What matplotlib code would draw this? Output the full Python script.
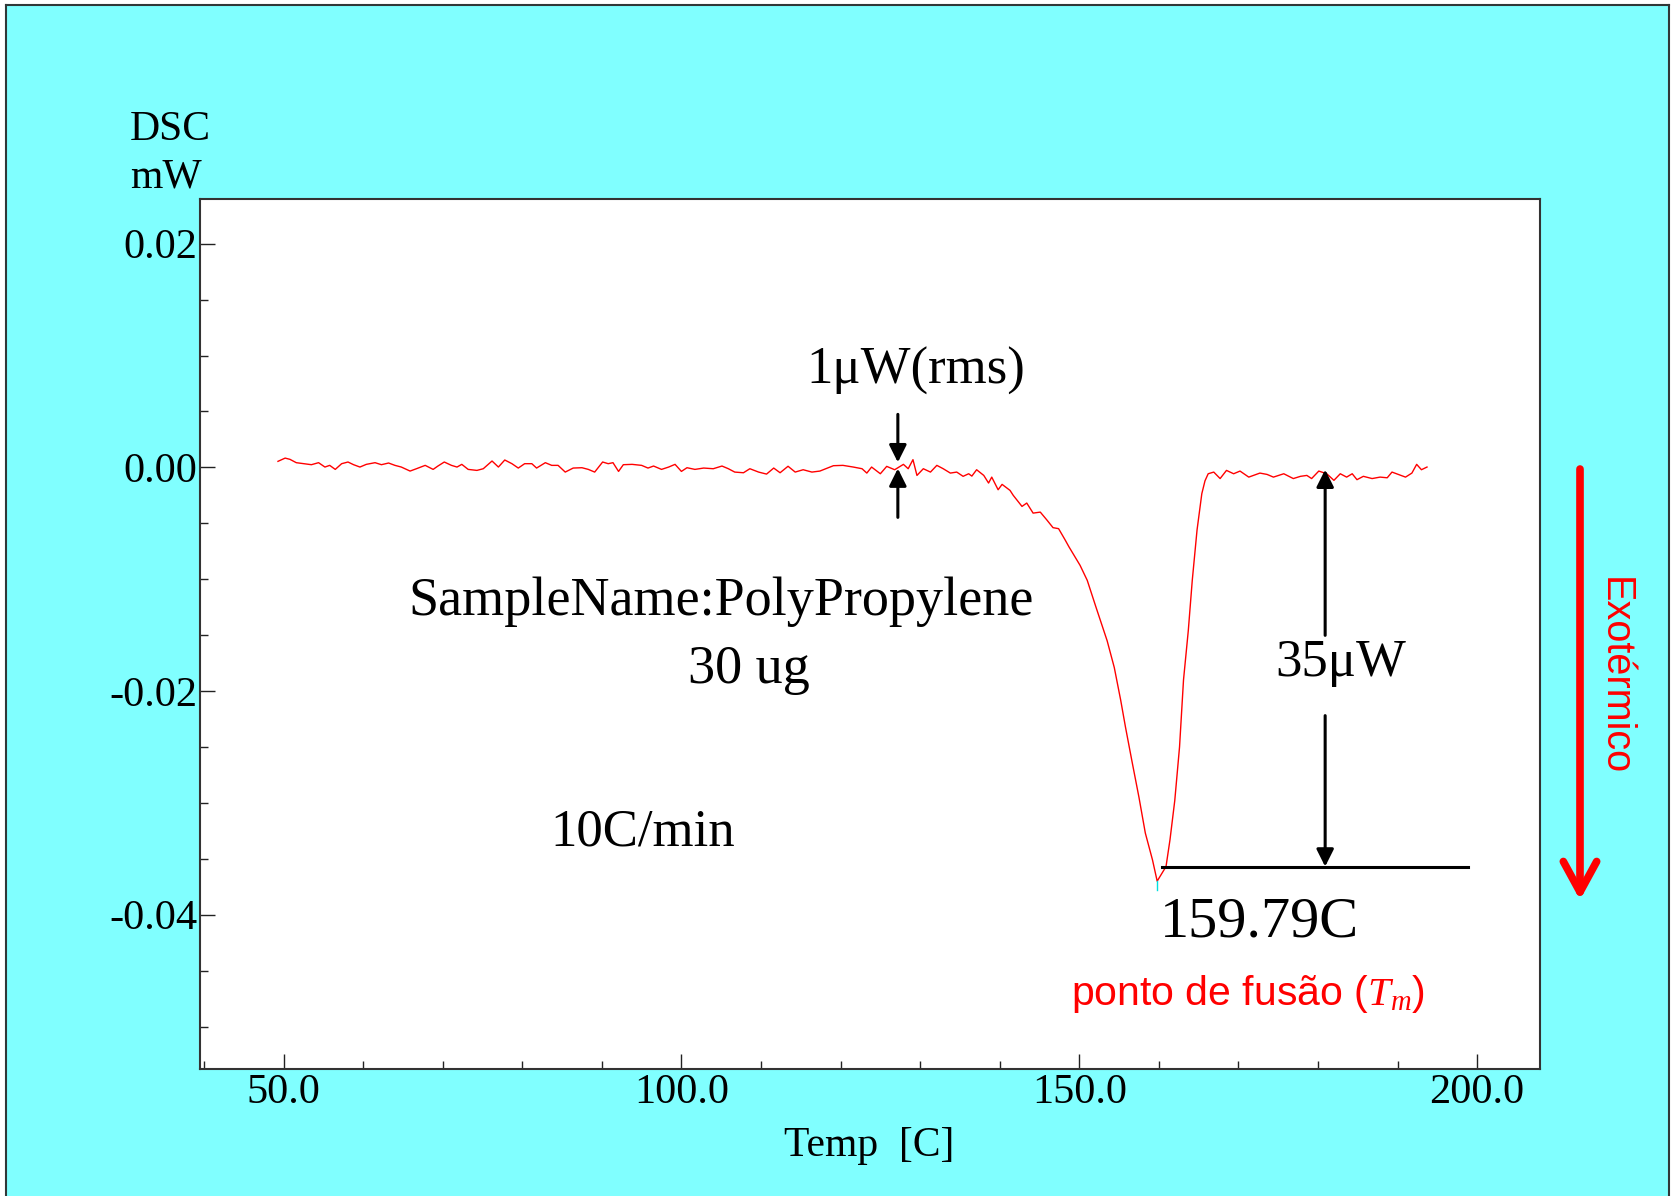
import matplotlib
matplotlib.use('Agg')
import matplotlib.pyplot as plt
from matplotlib.ticker import MultipleLocator, FixedLocator, FuncFormatter
from matplotlib.patches import Rectangle, FancyArrowPatch
from matplotlib.lines import Line2D

plt.rcParams['font.family'] = ['Liberation Serif', 'DejaVu Serif']
plt.rcParams['axes.unicode_minus'] = False
plt.rcParams['mathtext.fontset'] = 'custom'
plt.rcParams['mathtext.it'] = 'Liberation Serif:italic'
plt.rcParams['mathtext.rm'] = 'Liberation Serif'

# DSC trace of polypropylene (temperature in C, heat flow in mW)
temp = [49.3, 50.2, 50.8, 51.6, 52.5, 53.5, 54.4, 55.2, 55.8, 56.5, 57.3, 58.1, 58.8, 59.6,
        60.4, 61.5, 62.3, 63.2, 64.0, 64.8, 65.9, 66.7, 67.8, 68.8, 69.4, 70.2, 71.1, 71.8,
        72.4, 73.2, 74.3, 75.1, 76.2, 77.0, 77.8, 78.7, 79.5, 80.3, 81.2, 81.8, 82.9, 83.7,
        84.5, 85.4, 86.4, 87.5, 88.3, 89.1, 90.1, 90.8, 91.4, 92.1, 92.7, 93.8, 95.0, 95.8,
        96.5, 97.5, 98.4, 99.2, 100.0, 100.7, 101.7, 102.8, 104.0, 105.1, 105.9, 106.7, 107.8,
        108.6, 109.7, 110.7, 111.6, 112.4, 113.4, 114.3, 115.3, 116.4, 117.4, 119.1, 120.3,
        121.6, 122.7, 123.3, 123.9, 125.0, 125.8, 126.8, 127.9, 128.5, 129.1, 129.6, 130.4,
        131.3, 132.1, 132.9, 133.8, 134.6, 135.4, 136.1, 136.5, 137.1, 138.0, 138.6, 139.0,
        139.8, 140.3, 141.3, 141.7, 142.8, 143.4, 144.2, 145.1, 145.9, 146.7, 147.4, 148.2,
        148.7, 150.1, 151.0, 152.1, 153.5, 154.4, 155.2, 155.8, 156.6, 157.5, 158.3, 159.2,
        159.79, 160.9, 161.4, 162.0, 162.6, 163.1, 163.7, 164.2, 164.8, 165.4, 165.8, 166.2,
        166.9, 167.7, 168.5, 169.4, 170.2, 171.3, 171.9, 172.7, 173.6, 174.4, 175.7, 176.9,
        177.8, 178.6, 179.2, 180.1, 181.1, 182.0, 182.8, 183.6, 184.3, 184.9, 185.7, 186.8,
        187.8, 188.7, 189.3, 190.1, 191.0, 191.8, 192.4, 193.0, 193.7]
dsc = [0.00054, 0.00083, 0.00072, 0.00042, 0.00033, 0.00024, 0.00042, 0.00003, 0.00018, -0.00018,
       0.00033, 0.00048, 0.00024, 0.00003, 0.00027, 0.00042, 0.00024, 0.00039, 0.00018, 0.00003,
       -0.00033, -0.00012, 0.00018, -0.00018, 0.00012, 0.00048, 0.00018, 0.00003, 0.00027, -0.00018,
       -0.00027, -0.00012, 0.00057, 0.00003, 0.00066, 0.00033, -0.00006, 0.00033, 0.00033, -0.00006,
       0.00042, 0.00018, 0.00018, -0.00042, -0.00006, -0.00003, -0.00018, -0.00042, 0.00048, 0.00033,
       0.00042, -0.00036, 0.00024, 0.00027, 0.00018, -0.00006, 0.00012, -0.00018, 0.00003, 0.00027,
       -0.00036, -0.00003, -0.00018, -0.00006, -0.00012, 0.00012, -0.00012, -0.00042, -0.00048,
       -0.00012, -0.00042, -0.0006, -0.00006, -0.00048, 0.00010, -0.00042, -0.00021, -0.00042,
       -0.00033, 0.00015, 0.00018, 0.00003, -0.00012, -0.00051, 0.00003, -0.00057, 0.00009,
       -0.00021, 0.00027, -0.00012, 0.00069, -0.00072, -0.00012, -0.00042, 0.00018, -0.00012,
       -0.00051, -0.00042, -0.0008, -0.00057, -0.00078, -0.00021, -0.00072, -0.0014, -0.00087,
       -0.0020, -0.00152, -0.00206, -0.0025, -0.00349, -0.00319, -0.00409, -0.0040, -0.00468,
       -0.00539, -0.00548, -0.00646, -0.0071, -0.00876, -0.0101, -0.0125, -0.0155, -0.0179,
       -0.0208, -0.0232, -0.0262, -0.0295, -0.0327, -0.0351, -0.0370, -0.0357, -0.0333, -0.0298,
       -0.0250, -0.0190, -0.0146, -0.0101, -0.0056, -0.00235, -0.0012, -0.00057, -0.00042,
       -0.0010, -0.00027, -0.00057, -0.00033, -0.00087, -0.00072, -0.00051, -0.00063, -0.00087,
       -0.00057, -0.0010, -0.0008, -0.00072, -0.0010, -0.00033, -0.00057, -0.00116, -0.00057,
       -0.00087, -0.00057, -0.0011, -0.0008, -0.0010, -0.00087, -0.00093, -0.00042, -0.00063,
       -0.00087, -0.00051, 0.00027, -0.00021, 0.00003]

peak_temp = 159.79
peak_val = -0.0370
noise_temp = 127.2
noise_top, noise_bottom = 0.00045, -0.0001
step_temp = 180.9
step_top, step_bottom = -0.0002, -0.0357
base_line = (160.4, 198.9)

x_major = [50.0, 100.0, 150.0, 200.0]
y_major = [0.02, 0.0, -0.02, -0.04]

W, H = 1672, 1196
fig = plt.figure(figsize=(W / 100, H / 100), dpi=100)
fig.patch.set_facecolor('white')
fig.add_artist(Rectangle((6 / W, 0), (1669 - 6) / W, 1 - 5 / H, transform=fig.transFigure,
                         facecolor='#80ffff', edgecolor='none', zorder=-10))
for xs, ys in [([6, 6], [5, H]), ([6, 1669], [5, 5]), ([1669, 1669], [5, H])]:
    fig.add_artist(Line2D([x / W for x in xs], [1 - y / H for y in ys], color='#303838', lw=1.5))

ax = fig.add_axes([200 / W, 1 - 1069 / H, (1540 - 200) / W, (1069 - 199) / H])
ax.set_facecolor('white')
ax.plot(temp, dsc, color='#ff0000', lw=1.0)
ax.plot([peak_temp, peak_temp], [peak_val, peak_val - 0.0008], color='#00e0e0', lw=1.0)

ax.set_xlim(39.5, 207.9)
ax.set_ylim(-0.0538, 0.024)
ax.xaxis.set_major_locator(FixedLocator(x_major))
ax.xaxis.set_minor_locator(MultipleLocator(10))
ax.yaxis.set_major_locator(FixedLocator(y_major))
ax.yaxis.set_minor_locator(MultipleLocator(0.005))
ax.xaxis.set_major_formatter(FuncFormatter(lambda v, p: f'{v:.1f}'))
ax.yaxis.set_major_formatter(FuncFormatter(lambda v, p: '0.00' if abs(v) < 1e-9 else f'{v:.2f}'))
ax.tick_params(which='both', direction='in', color='#222222', width=1.0)
ax.tick_params(which='major', length=11, labelsize=30.5)
ax.tick_params(which='minor', length=5.5)
ax.tick_params(axis='x', pad=3)
ax.tick_params(axis='y', pad=2)
for s in ax.spines.values():
    s.set_color('#333333')
    s.set_linewidth(1.5)

# axis titles
fig.text(130 / W, 1 - 140 / H, 'DSC', fontsize=30, va='baseline', ha='left')
fig.text(130 / W, 1 - 188 / H, 'mW', fontsize=30, va='baseline', ha='left')
fig.text(869 / W, 1 - 1156 / H, 'Temp  [C]', fontsize=30, va='baseline', ha='center')

# annotations
ax.text(129.4, 0.0075, '1μW(rms)', fontsize=38, ha='center', va='baseline')
ax.text(105.0, -0.01323, 'SampleName:PolyPropylene', fontsize=39, ha='center', va='baseline')
ax.text(108.5, -0.01927, '30 ug', fontsize=39, ha='center', va='baseline')
ax.text(83.5, -0.0338, '10C/min', fontsize=38, ha='left', va='baseline')
ax.text(182.8, -0.01869, '35μW', fontsize=38, ha='center', va='baseline')
ax.text(172.6, -0.04193, '159.79C', fontsize=42, ha='center', va='baseline')
ax.text(171.2, -0.0481, r'ponto de fusão ($T_m$)', fontsize=29.5, color='red', ha='center',
        va='baseline', family=['Liberation Sans', 'DejaVu Sans'])

arrow_kw = dict(arrowstyle='-|>', color='black', lw=2.2, mutation_scale=26, shrinkA=0, shrinkB=0)
ax.annotate('', xy=(noise_temp, noise_top), xytext=(noise_temp, 0.00474), arrowprops=arrow_kw)
ax.annotate('', xy=(noise_temp, noise_bottom), xytext=(noise_temp, -0.00447), arrowprops=arrow_kw)
ax.annotate('', xy=(step_temp, step_top), xytext=(step_temp, -0.01502), arrowprops=arrow_kw)
ax.annotate('', xy=(step_temp, step_bottom), xytext=(step_temp, -0.0222), arrowprops=arrow_kw)
ax.plot(base_line, [step_bottom, step_bottom], color='black', lw=2.2)

# exothermic direction marker
fig.add_artist(FancyArrowPatch((1580 / W, 1 - 469 / H), (1580 / W, 1 - 900 / H),
                               transform=fig.transFigure, color='red', lw=5.5,
                               arrowstyle='->,head_length=22,head_width=12', mutation_scale=1,
                               capstyle='round', joinstyle='round', shrinkA=0, shrinkB=0))
fig.text(1615 / W, 1 - 676 / H, 'Exotérmico', fontsize=28.5, color='red', rotation=-90,
         ha='center', va='center', family=['Liberation Sans', 'DejaVu Sans'])

fig.savefig('out.png', dpi=100, facecolor=fig.get_facecolor())
